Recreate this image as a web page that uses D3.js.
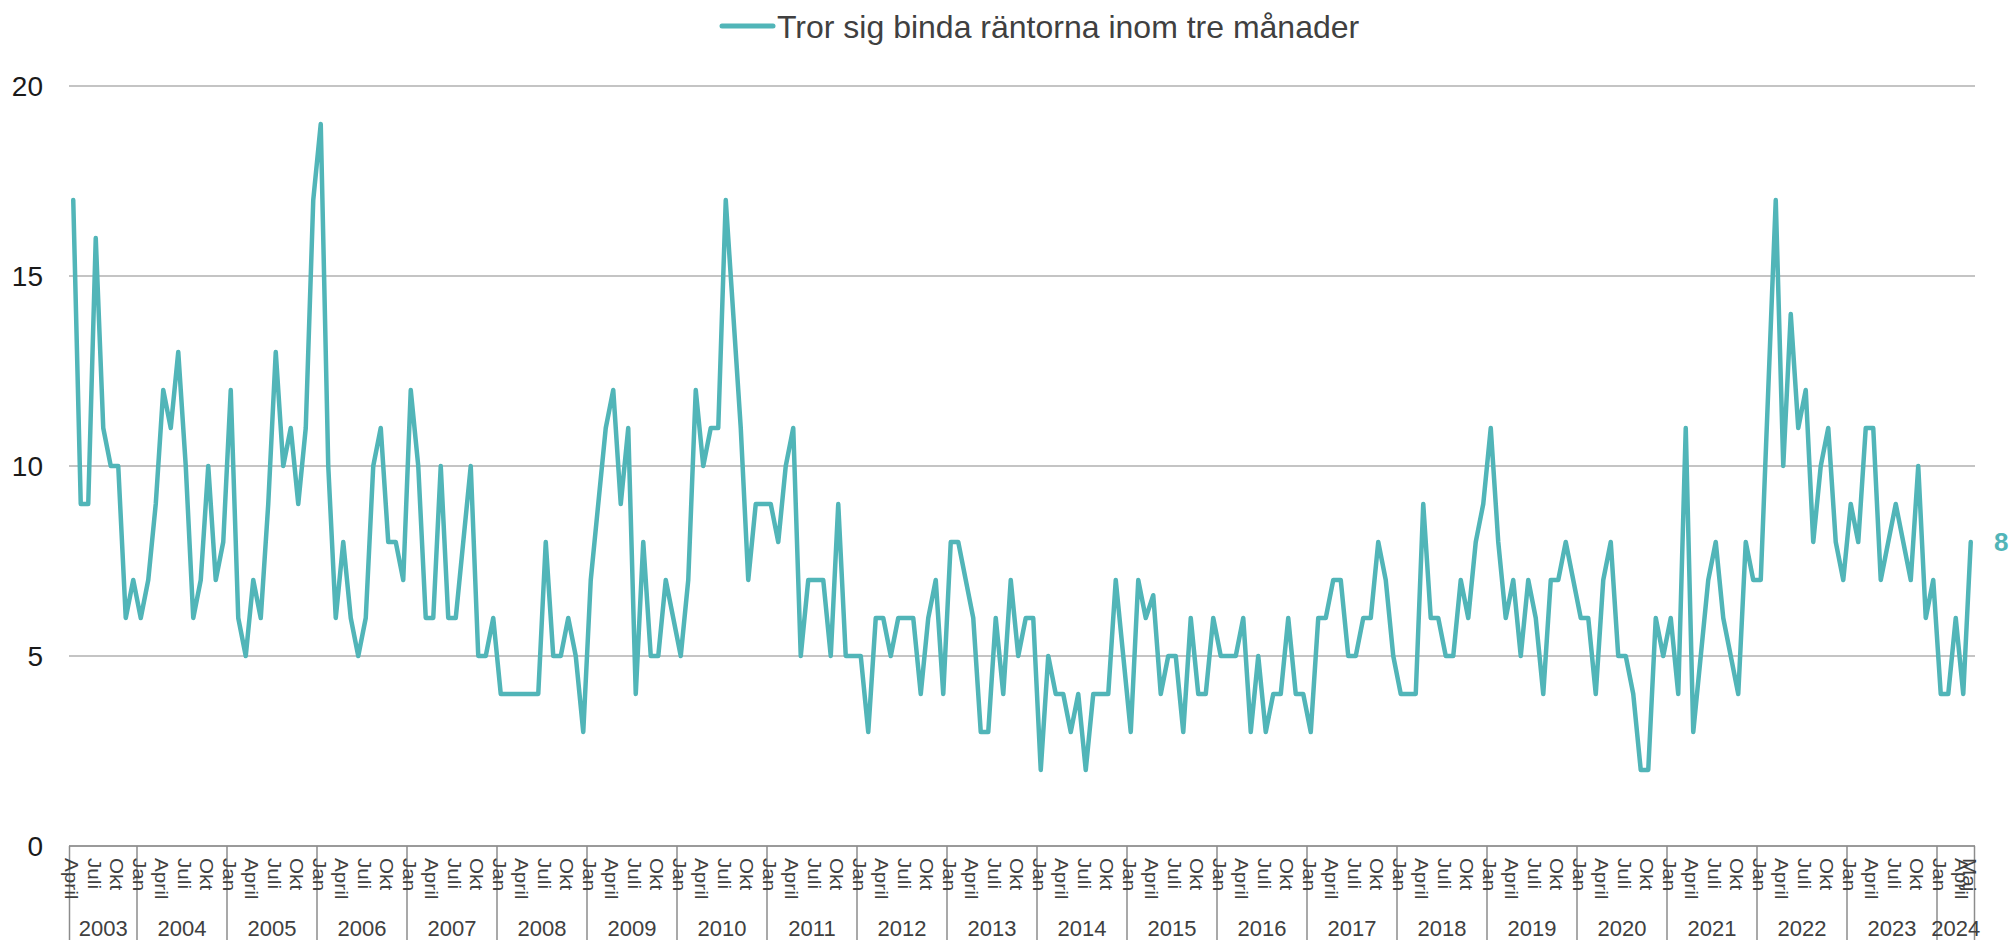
<!DOCTYPE html>
<html>
<head>
<meta charset="utf-8">
<script src="https://cdn.jsdelivr.net/npm/d3@7"></script>
<style>
  body { margin: 0; background: #fff; }
  text { font-family: "Liberation Sans", Arial, sans-serif; }
</style>
</head>
<body>
<script>
// Serien: andel som tror sig binda räntorna inom tre månader, april 2003 - maj 2024
var serieNamn = "Tror sig binda räntorna inom tre månader";
var startAr = 2003, startManad = 3; // april
var manadNamn = ["Jan", "Feb", "Mars", "April", "Maj", "Juni", "Juli", "Aug", "Sep", "Okt", "Nov", "Dec"];
var ar = [2003, 2004, 2005, 2006, 2007, 2008, 2009, 2010, 2011, 2012, 2013, 2014, 2015, 2016, 2017, 2018, 2019, 2020, 2021, 2022, 2023, 2024];
var yTicks = [0, 5, 10, 15, 20];

var varden = [
  // 2003 apr-dec
  17, 9, 9, 16, 11, 10, 10, 6, 7,
  // 2004
  6, 7, 9, 12, 11, 13, 10, 6, 7, 10, 7, 8,
  // 2005
  12, 6, 5, 7, 6, 9, 13, 10, 11, 9, 11, 17,
  // 2006
  19, 10, 6, 8, 6, 5, 6, 10, 11, 8, 8, 7,
  // 2007
  12, 10, 6, 6, 10, 6, 6, 8, 10, 5, 5, 6,
  // 2008
  4, 4, 4, 4, 4, 4, 8, 5, 5, 6, 5, 3,
  // 2009
  7, 9, 11, 12, 9, 11, 4, 8, 5, 5, 7, 6,
  // 2010
  5, 7, 12, 10, 11, 11, 17, 14, 11, 7, 9, 9,
  // 2011
  9, 8, 10, 11, 5, 7, 7, 7, 5, 9, 5, 5,
  // 2012
  5, 3, 6, 6, 5, 6, 6, 6, 4, 6, 7, 4,
  // 2013
  8, 8, 7, 6, 3, 3, 6, 4, 7, 5, 6, 6,
  // 2014
  2, 5, 4, 4, 3, 4, 2, 4, 4, 4, 7, 5,
  // 2015
  3, 7, 6, 6.6, 4, 5, 5, 3, 6, 4, 4, 6,
  // 2016
  5, 5, 5, 6, 3, 5, 3, 4, 4, 6, 4, 4,
  // 2017
  3, 6, 6, 7, 7, 5, 5, 6, 6, 8, 7, 5,
  // 2018
  4, 4, 4, 9, 6, 6, 5, 5, 7, 6, 8, 9,
  // 2019
  11, 8, 6, 7, 5, 7, 6, 4, 7, 7, 8, 7,
  // 2020
  6, 6, 4, 7, 8, 5, 5, 4, 2, 2, 6, 5,
  // 2021
  6, 4, 11, 3, 5, 7, 8, 6, 5, 4, 8, 7,
  // 2022
  7, 12, 17, 10, 14, 11, 12, 8, 10, 11, 8, 7,
  // 2023
  9, 8, 11, 11, 7, 8, 9, 8, 7, 10, 6, 7,
  // 2024 jan-maj
  4, 4, 6, 4, 8
];

var farg = "#51b5b8";
var W = 2015, H = 940;

// månadsposter med år och månad
var data = varden.map(function(v, i) {
  var m = startManad + i;
  return { i: i, ar: startAr + Math.floor(m / 12), manad: m % 12, varde: v };
});

var svg = d3.select("body").append("svg")
  .attr("width", W)
  .attr("height", H);

var x = d3.scaleBand()
  .domain(data.map(d => d.i))
  .range([69.5, 1974.5])
  .padding(0);

var y = d3.scaleLinear()
  .domain([0, 20])
  .range([846, 86]);

var xc = d => x(d.i) + x.bandwidth() / 2;

// stödlinjer
svg.append("g")
  .selectAll("line")
  .data(yTicks.filter(t => t > 0))
  .enter()
  .append("line")
  .attr("x1", 69).attr("x2", 1975)
  .attr("y1", d => y(d)).attr("y2", d => y(d))
  .attr("stroke", "#c4c4c4")
  .attr("stroke-width", 2);

// y-axelns etiketter
svg.append("g")
  .selectAll("text")
  .data(yTicks)
  .enter()
  .append("text")
  .attr("x", 43)
  .attr("y", d => y(d))
  .attr("dy", "0.36em")
  .attr("text-anchor", "end")
  .attr("font-size", 28)
  .attr("fill", "#1a1a1a")
  .text(d => d);

// x-axel
svg.append("line")
  .attr("x1", 69).attr("x2", 1975)
  .attr("y1", y(0)).attr("y2", y(0))
  .attr("stroke", "#9a9a9a")
  .attr("stroke-width", 2);

// årsgränser
var arStart = ar.map(function(a) {
  var forsta = data.find(d => d.ar === a);
  var sista = data.filter(d => d.ar === a).pop();
  return { ar: a, x0: x(forsta.i), x1: x(sista.i) + x.bandwidth() };
});

svg.append("g")
  .selectAll("line")
  .data(arStart.map(d => d.x0).concat([x(data[data.length - 1].i) + x.bandwidth()]))
  .enter()
  .append("line")
  .attr("x1", d => d).attr("x2", d => d)
  .attr("y1", y(0)).attr("y2", H)
  .attr("stroke", "#8c8c8c")
  .attr("stroke-width", 1.5);

// månadsetiketter, var tredje månad samt sista
var etiketter = data.filter(d => d.i % 3 === 0 || d.i === data.length - 1);
svg.append("g")
  .selectAll("text")
  .data(etiketter)
  .enter()
  .append("text")
  .attr("transform", d => "translate(" + (xc(d) - 8) + ",858) rotate(90) scale(1.15,1)")
  .attr("font-size", 18)
  .attr("fill", "#404040")
  .text(d => manadNamn[d.manad]);

// årsetiketter
svg.append("g")
  .selectAll("text")
  .data(arStart)
  .enter()
  .append("text")
  .attr("x", d => (d.x0 + d.x1) / 2)
  .attr("y", 936)
  .attr("text-anchor", "middle")
  .attr("font-size", 22)
  .attr("fill", "#404040")
  .text(d => d.ar);

// linjen
var linje = d3.line()
  .x(xc)
  .y(d => y(d.varde));

svg.append("path")
  .datum(data)
  .attr("d", linje)
  .attr("fill", "none")
  .attr("stroke", farg)
  .attr("stroke-width", 4.5)
  .attr("stroke-linejoin", "round")
  .attr("stroke-linecap", "round");

// sista värdet
var sist = data[data.length - 1];
svg.append("text")
  .attr("x", 1994)
  .attr("y", y(sist.varde))
  .attr("dy", "0.36em")
  .attr("font-size", 26)
  .attr("font-weight", "bold")
  .attr("fill", farg)
  .text(sist.varde);

// legend
var legend = svg.append("g");
legend.append("line")
  .attr("x1", 722).attr("x2", 773)
  .attr("y1", 26).attr("y2", 26)
  .attr("stroke", farg)
  .attr("stroke-width", 5)
  .attr("stroke-linecap", "round");
legend.append("text")
  .attr("x", 777)
  .attr("y", 38)
  .attr("font-size", 32)
  .attr("fill", "#404040")
  .text(serieNamn);
</script>
</body>
</html>
